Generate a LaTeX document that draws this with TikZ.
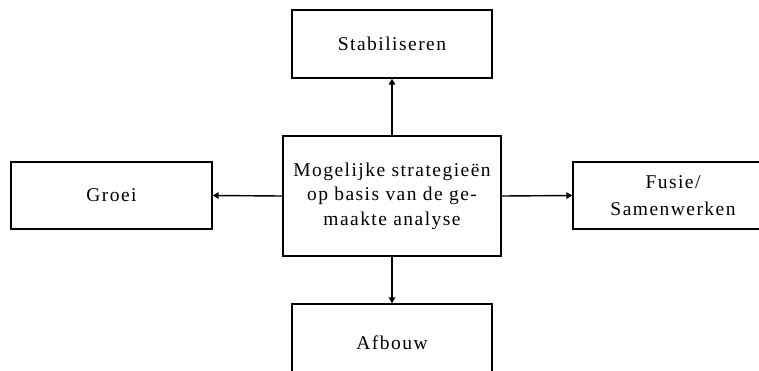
\documentclass[tikz,border=0pt]{standalone}
\usepackage{fontspec}
\setmainfont{Liberation Serif}[LetterSpace=7.5]
\usetikzlibrary{arrows.meta}
\begin{document}
\begin{tikzpicture}[x=1pt,y=-1pt,
  box/.style={draw=black,line width=1.4pt,rectangle,inner sep=0pt,align=center,
    font=\fontsize{19.5}{24.5}\selectfont},
  link/.style={line width=1.4pt,-{Triangle[length=6pt,width=6.5pt]}}]
\useasboundingbox (0,0) rectangle (759,370);
\clip (0,0) rectangle (759,370);
\node[box,minimum width=218pt,minimum height=120pt] (mid) at (392,196)
  {Mogelijke strategieën\\op basis van de ge-\\maakte analyse};
\node[box,minimum width=200pt,minimum height=68pt] (top) at (392,44) {Stabiliseren};
\node[box,minimum width=201pt,minimum height=67pt] (left) at (111.5,195.5) {Groei};
\node[box,minimum width=200pt,minimum height=67pt,
  font=\fontsize{19.5}{27}\selectfont] (right) at (673,195.5) {Fusie/\\Samenwerken};
\node[box,minimum width=200pt,minimum height=78pt] (bottom) at (392,343) {Afbouw};
\draw[link] (mid.north) -- (top.south);
\draw[link] (mid.west) -- (left.east);
\draw[link] (mid.east) -- (right.west);
\draw[link] (mid.south) -- (bottom.north);
\end{tikzpicture}
\end{document}
